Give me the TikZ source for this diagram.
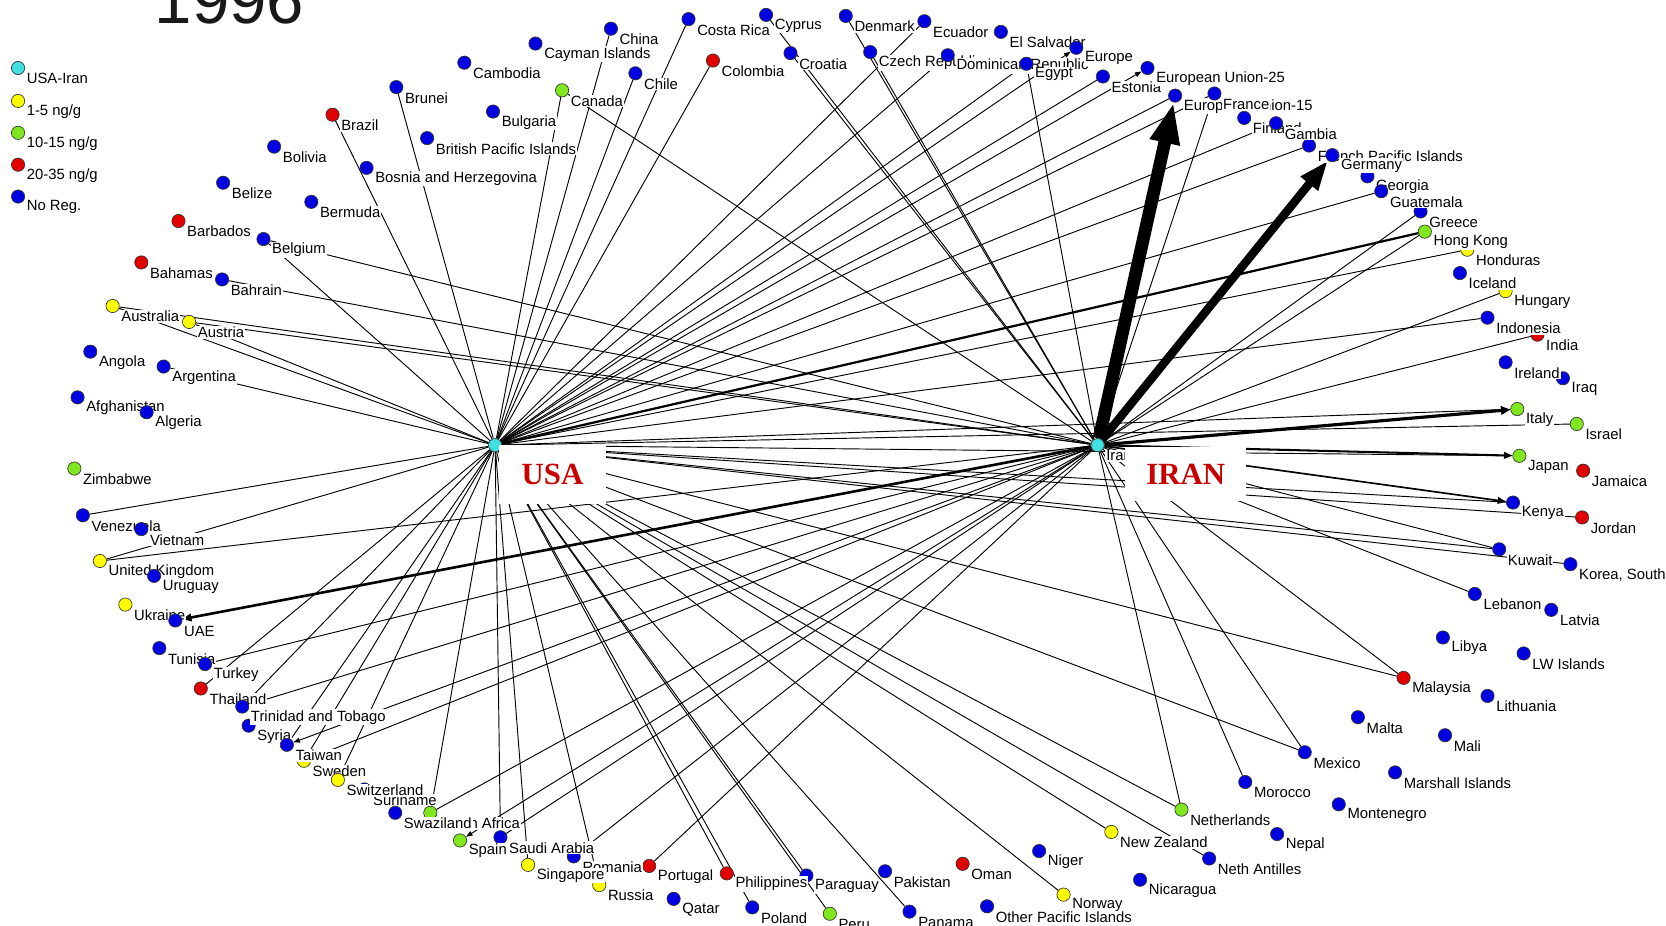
\documentclass[tikz,border=0pt]{standalone}
\usepackage{fontspec}
\setmainfont{Liberation Sans}
\newfontfamily\hubfont{Liberation Serif}
\usetikzlibrary{arrows.meta}
\pgfdeclarelayer{edges}
\pgfsetlayers{edges,main}
\definecolor{cb}{RGB}{0,0,224}
\definecolor{cr}{RGB}{224,0,0}
\definecolor{cg}{RGB}{128,230,30}
\definecolor{cy}{RGB}{255,255,0}
\definecolor{cc}{RGB}{64,224,224}
\definecolor{hubred}{RGB}{200,0,0}
\newcommand\cty[5]{%
  \node[cdot,fill=#4] (#1) at (#2,#3) {};
  \node[lbl] (#1-l) at ([xshift=0.14cm,yshift=-0.2cm]#1.center) {#5};}
\begin{document}
\begin{tikzpicture}[x=0.02cm,y=-0.02cm,
  cdot/.style={circle,draw=black!80,line width=0.35pt,minimum size=0.25cm,inner sep=0pt},
  lbl/.style={anchor=west,fill=white,inner sep=0.5pt,font=\fontsize{7.95}{8}\selectfont},
  lnk/.style={line width=0.5pt,black},
  tinyarr/.style={lnk,-{Triangle[length=3.5pt,width=2.6pt]}},
  hub/.style={fill=white,inner sep=0pt,text=hubred,font=\hubfont\bfseries\fontsize{16.5}{18}\selectfont}]
\useasboundingbox (0,0) rectangle (1568,871);

% title
\node[font=\fontsize{36}{36}\selectfont,anchor=base,text=black!90] (title) at (216,22) {1996};

% legend
\cty{legc}{17}{64}{cc}{USA-Iran}
\cty{legy}{17}{95}{cy}{1-5 ng/g}
\cty{legg}{17}{125}{cg}{10-15 ng/g}
\cty{legr}{17}{155}{cr}{20-35 ng/g}
\cty{legb}{17}{185}{cb}{No Reg.}

% countries (alphabetical drawing order)
\cty{afghanistan}{73}{374}{cb}{Afghanistan}
\cty{algeria}{138}{388}{cb}{Algeria}
\cty{angola}{85}{331}{cb}{Angola}
\cty{argentina}{154}{345}{cb}{Argentina}
\cty{australia}{106}{288}{cy}{Australia}
\cty{austria}{178}{303}{cy}{Austria}
\cty{bahamas}{133}{247}{cr}{Bahamas}
\cty{bahrain}{209}{263}{cb}{Bahrain}
\cty{barbados}{168}{208}{cr}{Barbados}
\cty{belgium}{248}{225}{cb}{Belgium}
\cty{belize}{210}{172}{cb}{Belize}
\cty{bermuda}{293}{190}{cb}{Bermuda}
\cty{bolivia}{258}{138}{cb}{Bolivia}
\cty{bosnia}{345}{158}{cb}{Bosnia and Herzegovina}
\cty{brazil}{313}{108}{cr}{Brazil}
\cty{britishpac}{402}{130}{cb}{British Pacific Islands}
\cty{brunei}{373}{82}{cb}{Brunei}
\cty{bulgaria}{464}{105}{cb}{Bulgaria}
\cty{cambodia}{437}{59}{cb}{Cambodia}
\cty{canada}{529}{85}{cg}{Canada}
\cty{cayman}{504}{41}{cb}{Cayman Islands}
\cty{chile}{598}{69}{cb}{Chile}
\cty{china}{575}{27}{cb}{China}
\cty{colombia}{671}{57}{cr}{Colombia}
\cty{costarica}{648}{18}{cb}{Costa Rica}
\cty{croatia}{744}{50}{cb}{Croatia}
\cty{cyprus}{721}{14}{cb}{Cyprus}
\cty{czech}{819}{49}{cb}{Czech Republic}
\cty{denmark}{796}{15}{cb}{Denmark}
\cty{dominican}{892}{52}{cb}{Dominican Republic}
\cty{ecuador}{870}{20}{cb}{Ecuador}
\cty{egypt}{966}{60}{cb}{Egypt}
\cty{elsalvador}{942}{30}{cb}{El Salvador}
\cty{estonia}{1038}{72}{cb}{Estonia}
\cty{europe}{1013}{45}{cb}{Europe}
\cty{eufifteen}{1106}{90}{cb}{European Union-15}
\cty{eutwentyfive}{1080}{64}{cb}{European Union-25}
\cty{finland}{1171}{111}{cb}{Finland}
\cty{france}{1143}{88}{cb}{France}
\cty{frenchpac}{1232}{137}{cb}{French Pacific Islands}
\cty{gambia}{1201}{116}{cb}{Gambia}
\cty{georgia}{1287}{166}{cb}{Georgia}
\cty{germany}{1254}{146}{cb}{Germany}
\cty{greece}{1337}{199}{cb}{Greece}
\cty{guatemala}{1300}{180}{cb}{Guatemala}
\cty{honduras}{1381}{235}{cy}{Honduras}
\cty{hongkong}{1341}{218}{cg}{Hong Kong}
\cty{hungary}{1417}{274}{cy}{Hungary}
\cty{iceland}{1374}{257}{cb}{Iceland}
\cty{india}{1447}{315}{cr}{India}
\cty{indonesia}{1400}{299}{cb}{Indonesia}
\cty{iraq}{1471}{356}{cb}{Iraq}
\cty{ireland}{1417}{341}{cb}{Ireland}
\cty{israel}{1484}{399}{cg}{Israel}
\cty{italy}{1428}{385}{cg}{Italy}
\cty{jamaica}{1490}{443}{cr}{Jamaica}
\cty{japan}{1430}{429}{cg}{Japan}
\cty{jordan}{1489}{487}{cr}{Jordan}
\cty{kenya}{1424}{473}{cb}{Kenya}
\cty{korea}{1478}{531}{cb}{Korea, South}
\cty{kuwait}{1411}{517}{cb}{Kuwait}
\cty{latvia}{1460}{574}{cb}{Latvia}
\cty{lebanon}{1388}{559}{cb}{Lebanon}
\cty{libya}{1358}{600}{cb}{Libya}
\cty{lithuania}{1400}{655}{cb}{Lithuania}
\cty{lwislands}{1434}{615}{cb}{LW Islands}
\cty{malaysia}{1321}{638}{cr}{Malaysia}
\cty{mali}{1360}{692}{cb}{Mali}
\cty{malta}{1278}{675}{cb}{Malta}
\cty{marshall}{1313}{727}{cb}{Marshall Islands}
\cty{mexico}{1228}{708}{cb}{Mexico}
\cty{montenegro}{1260}{757}{cb}{Montenegro}
\cty{morocco}{1172}{736}{cb}{Morocco}
\cty{nepal}{1202}{785}{cb}{Nepal}
\cty{nethantilles}{1138}{808}{cb}{Neth Antilles}
\cty{netherlands}{1112}{762}{cg}{Netherlands}
\cty{newzealand}{1046}{783}{cy}{New Zealand}
\cty{nicaragua}{1073}{828}{cb}{Nicaragua}
\cty{niger}{978}{801}{cb}{Niger}
\cty{norway}{1001}{842}{cy}{Norway}
\cty{oman}{906}{813}{cr}{Oman}
\cty{otherpac}{929}{853}{cb}{Other Pacific Islands}
\cty{pakistan}{833}{820}{cb}{Pakistan}
\cty{panama}{856}{858}{cb}{Panama}
\cty{paraguay}{759}{824}{cb}{Paraguay}
\cty{peru}{781}{860}{cg}{Peru}
\cty{philippines}{684}{822}{cr}{Philippines}
\cty{poland}{708}{854}{cb}{Poland}
\cty{portugal}{611}{815}{cr}{Portugal}
\cty{qatar}{634}{846}{cb}{Qatar}
\cty{romania}{540}{806}{cb}{Romania}
\cty{russia}{564}{833}{cy}{Russia}
\cty{saudi}{471}{788}{cb}{Saudi Arabia}
\cty{singapore}{497}{814}{cy}{Singapore}
\cty{southafrica}{405}{765}{cg}{South Africa}
\cty{spain}{433}{791}{cg}{Spain}
\cty{suriname}{343}{743}{cb}{Suriname}
\cty{swaziland}{372}{765}{cb}{Swaziland}
\cty{sweden}{286}{716}{cy}{Sweden}
\cty{switzerland}{318}{734}{cy}{Switzerland}
\cty{syria}{234}{683}{cb}{Syria}
\cty{taiwan}{270}{701}{cb}{Taiwan}
\cty{thailand}{189}{648}{cr}{Thailand}
\cty{trinidad}{228}{665}{cb}{Trinidad and Tobago}
\cty{tunisia}{150}{610}{cb}{Tunisia}
\cty{turkey}{193}{625}{cb}{Turkey}
\cty{ukraine}{118}{569}{cy}{Ukraine}
\cty{uae}{165}{584}{cb}{UAE}
\cty{uk}{94}{528}{cy}{United Kingdom}
\cty{uruguay}{145}{542}{cb}{Uruguay}
\cty{venezuela}{78}{485}{cb}{Venezuela}
\cty{vietnam}{133}{498}{cb}{Vietnam}
\cty{zimbabwe}{70}{441}{cg}{Zimbabwe}

% hubs
\node[cdot,fill=cc] (usa) at (466,419) {};
\node[cdot,fill=cc] (iran) at (1033,419) {};
\node[lbl] (iran-l) at ([xshift=0.14cm,yshift=-0.2cm]iran.center) {Iran};
\node[hub,minimum width=2cm,minimum height=1.12cm] (usabox) at (520,446.5) {USA};
\node[hub,minimum width=2.28cm,minimum height=1.02cm] (iranbox) at (1116,446.5) {IRAN};

% connectors
\begin{pgfonlayer}{edges}
\fill[white] (0,0) rectangle (1568,871);
\foreach \t in {brazil,brunei,canada,china,chile,costarica,colombia,ecuador,dominican,egypt,estonia,eufifteen,france,gambia,frenchpac,guatemala,honduras,indonesia,italy,israel,japan,jordan,kenya,kuwait,korea,malaysia,mexico,netherlands,newzealand,nethantilles,norway,panama,paraguay,peru,philippines,poland,russia,singapore,saudi,southafrica,switzerland,sweden,taiwan,trinidad,thailand,uk,venezuela,argentina,austria,australia,belgium}
  \draw[lnk] (usa) -- (\t);
\draw[tinyarr] (usa) -- (europe);
\draw[tinyarr] (usa) -- (eutwentyfive);
\draw[lnk,line width=1.2pt] (usa) -- (hongkong);
\foreach \t in {belgium,bahrain,australia,austria,canada,cyprus,croatia,denmark,czech,egypt,france,greece,hongkong,hungary,india,kuwait,lebanon,malaysia,mexico,morocco,netherlands,uk,turkey,trinidad,sweden,southafrica,saudi,romania,portugal}
  \draw[lnk] (iran) -- (\t);
\draw[tinyarr] (iran) -- (taiwan);
\draw[tinyarr] (iran) -- (spain);
\draw[lnk,line width=6.8pt,-{Triangle[length=22pt,width=15pt]}] (iran) -- (eufifteen);
\draw[lnk,line width=4.5pt,-{Triangle[length=16pt,width=11pt]}] (iran) -- (germany);
\draw[lnk,line width=1.7pt,-{Triangle[length=5pt,width=4.5pt]}] (iran) -- (italy);
\draw[lnk,line width=1.4pt,-{Triangle[length=5pt,width=4pt]}] (iran) -- (uae);
\draw[lnk,line width=1.1pt,-{Triangle[length=4.5pt,width=3.5pt]}] (iran) -- (japan);
\draw[lnk,line width=0.9pt,-{Triangle[length=4.5pt,width=3.5pt]}] (iran) -- (kenya);
\end{pgfonlayer}
\end{tikzpicture}
\end{document}
